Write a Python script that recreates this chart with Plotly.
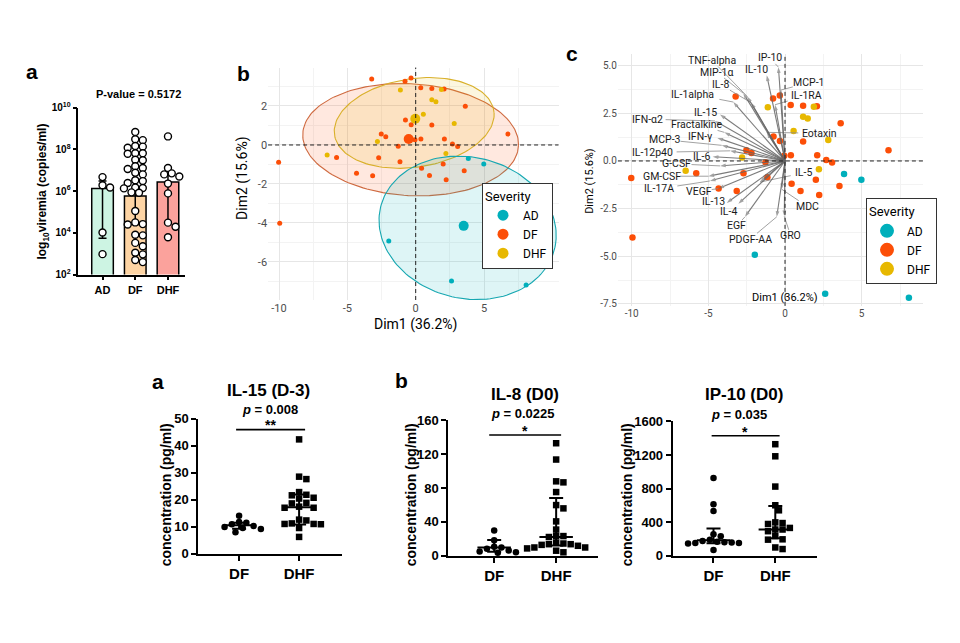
import numpy as np
import plotly.graph_objects as go

W, H = 960, 643
def fx(p): return p / W
def fy(p): return 1 - p / H

PRISM = "Liberation Sans"
GG = "Roboto"

# ===================== DATA =====================
# top (a): viremia, log10 copies/ml
vir_groups = ["AD", "DF", "DHF"]
vir_AD = [6.67, 6.28, 6.17, 4.02, 2.98]
vir_DF = [8.83, 8.48, 8.44, 8.16, 8.13, 8.08, 7.81, 7.81, 7.79, 7.50, 7.48, 7.19,
          7.11, 7.06, 6.88, 6.80, 6.52, 6.48, 6.39, 6.17, 6.15, 6.13, 5.94, 5.92,
          5.05, 4.50, 4.42, 4.40, 3.91, 3.88, 3.52, 3.36, 3.05, 2.97, 2.70, 2.60]
vir_DHF = [8.62, 7.11, 6.85, 6.80, 6.70, 6.36, 5.89, 4.49, 4.29, 3.79]
vir_median = [6.13, 5.77, 6.44]
vir_q1 = [3.74, 4.40, 4.45]
vir_q3 = [6.49, 7.80, 6.75]

# (b)/(c): PCA individuals
ind_AD_x = [3.85, 4.98, -1.97, 2.62, 8.08]
ind_AD_y = [-0.69, -0.98, -4.92, -6.97, -7.18]
ind_DF_x = [-3.22, -0.34, -0.78, 0.37, 1.18, 2.08, 3.63, -0.75, -0.33, 1.18,
            -2.52, -2.19, 0.38, -0.05, 2.10, 2.69, 3.07, -1.28, 6.75, -5.79,
            -2.71, -1.15, 2.01, 0.43, 3.55, -4.33, -3.15, 1.01, 2.23, -10.03, -9.95]
ind_DF_y = [3.38, 3.43, 3.27, 2.94, 2.90, 2.87, 1.98, 1.28, 1.04, 1.02,
            0.56, 0.42, 0.30, 0.27, 0.30, 0.05, -0.08, -0.07, 0.56, -0.64,
            -0.65, -0.86, -0.98, -1.20, -1.32, -1.45, -1.58, -1.57, -1.78, -0.89, -4.02]
ind_DHF_x = [-1.12, 1.88, 1.18, 1.48, 0.56, 2.82, -2.80, -6.48, 2.21]
ind_DHF_y = [2.82, 2.84, 2.32, 2.22, 1.57, 1.10, 0.18, -0.52, -0.44]

# (b) concentration ellipses: centre, semi-axes, rotation (deg)
ell_groups = ["DF", "DHF", "AD"]
ell_cx = [-0.37, -0.11, 3.80]
ell_cy = [0.27, 1.13, -4.25]
ell_a = [7.90, 5.87, 6.50]
ell_b = [2.87, 2.28, 3.65]
ell_rot = [-2, 5, -5]

# (c) variable loadings
var_names = ["TNF-alpha", "IP-10", "IL-10", "MIP-1α", "IL-8", "MCP-1", "IL-1RA",
             "IL-1alpha", "IFN-α2", "IL-15", "Fractalkine", "IFN-γ", "MCP-3",
             "Eotaxin", "IL-12p40", "IL-6", "G-CSF", "GM-CSF", "IL-5", "IL-17A",
             "VEGF", "IL-13", "MDC", "IL-4", "EGF", "PDGF-AA", "GRO"]
var_x = [-2.46, -0.43, -1.19, -2.72, -2.20, -0.26, -0.65, -3.37, -4.57, -4.24,
         -3.96, -4.41, -4.13, -1.19, -3.59, -4.72, -4.24, -5.00, -1.63, -4.90,
         -4.35, -3.80, -0.22, -3.04, -2.61, -0.54, -0.05]
var_y = [3.38, 4.92, 4.49, 3.55, 3.05, 3.72, 2.95, 3.09, 2.10, 2.44,
         1.50, 1.21, 0.82, 1.50, 0.53, 0.22, -0.26, -0.80, -1.11, -1.05,
         -1.45, -2.20, -1.48, -2.25, -2.93, -2.93, -2.90]
# repelled label placement
lab_x = [-4.74, -0.98, -1.85, -4.46, -4.24, 1.52, 1.37, -6.02, -8.98, -5.20,
         -5.72, -5.50, -7.83, 2.24, -8.63, -5.48, -7.11, -8.04, 1.20, -8.22,
         -5.61, -4.68, 1.46, -3.70, -3.15, -2.28, 0.37]
lab_y = [5.26, 5.40, 4.80, 4.66, 4.02, 4.10, 3.42, 3.50, 2.19, 2.55,
         1.91, 1.28, 1.11, 1.45, 0.45, 0.24, -0.15, -0.80, -0.63, -1.46,
         -1.60, -2.13, -2.39, -2.63, -3.40, -4.10, -3.92]

# bottom panels (pg/ml); stats = [median, q1, q3]
il15_DF = [14.1, 11.8, 11.5, 11.0, 10.3, 10.0, 9.6, 9.2, 8.0]
il15_DHF = [42.4, 28.6, 27.7, 22.9, 21.9, 21.7, 20.8, 20.5, 18.9, 18.7, 17.5,
            17.1, 17.1, 12.7, 12.4, 11.3, 11.1, 11.1, 11.0, 9.6, 6.3]
il15_DF_stats = [10.6, 9.3, 11.5]
il15_DHF_stats = [17.3, 10.9, 22.0]

il8_DF = [29.7, 18.1, 10.4, 9.6, 8.0, 6.0, 5.0, 3.9, 3.5]
il8_DHF = [133, 113.7, 87.9, 86.7, 75.2, 59.8, 55.9, 40.5, 30.8, 23.1, 23.1, 22.0,
           15.4, 14.3, 13.5, 13.5, 12.7, 11.6, 9.6, 9.6, 8.5, 5.8, 3.9]
il8_DF_stats = [9.6, 4.6, 18.5]
il8_DHF_stats = [22.0, 12.0, 68.2]

ip10_DF = [924, 613, 532, 255, 232, 190, 175, 165, 160, 155, 150, 150, 145, 66]
ip10_DHF = [1328, 1184, 823, 600, 540, 396, 388, 377, 330, 311, 311, 291, 233,
            194, 190, 97, 78]
ip10_DF_stats = [182, 148, 322]
ip10_DHF_stats = [311, 206, 590]

# ===================== HELPERS =====================
def swarm(vals, ypx, xpx, dia, step_frac=0.55):
    v = np.asarray(vals, float)
    order = np.argsort(-v)
    placed = []
    offs = np.zeros(len(v))
    step = dia * step_frac
    for i in order:
        y = v[i] * ypx
        k = 0
        while True:
            c = ((k + 1) // 2) * step * (1 if k % 2 == 1 else -1)
            if all((c - a) ** 2 + (y - b) ** 2 >= (dia * 0.95) ** 2 for a, b in placed):
                break
            k += 1
        placed.append((c, y))
        offs[i] = c / xpx
    return offs

def rgba(hexc, a):
    h = hexc.lstrip("#")
    return "rgba(%d,%d,%d,%.3f)" % (int(h[0:2], 16), int(h[2:4], 16), int(h[4:6], 16), a)

SEV_COL = {"AD": "#00AFBB", "DF": "#FC4E07", "DHF": "#E7B800"}
ELL_LINE = {"AD": "#16a7b1", "DF": "#cf6a40", "DHF": "#d9b02a"}

fig = go.Figure()
ann = []
shapes = []

def bold(t):
    return "<b>%s</b>" % t

def ptext(xp, yp, text, size, family=PRISM, angle=0, color="black"):
    ann.append(dict(x=fx(xp), y=fy(yp), xref="paper", yref="paper", text=text, showarrow=False,
                    xanchor="center", yanchor="middle", textangle=angle,
                    font=dict(family=family, size=size, color=color)))

# ===================== TOP a =====================
A_XPX, A_YPX = 32.8, 21.4
bar_colors = ["#cdf4e3", "#fdd4a4", "#fba29c"]
fig.add_trace(go.Bar(x=[0, 1, 2], y=[10 ** m for m in vir_median], width=0.66,
                     marker=dict(color=bar_colors, line=dict(color="black", width=1.5)),
                     xaxis="x", yaxis="y", showlegend=False))
fig.add_trace(go.Scatter(x=[0, 1, 2], y=[10 ** m for m in vir_median], mode="markers",
                         marker=dict(size=1, color="rgba(0,0,0,0)"),
                         error_y=dict(type="data", symmetric=False,
                                      array=[10 ** q - 10 ** m for q, m in zip(vir_q3, vir_median)],
                                      arrayminus=[10 ** m - 10 ** q for q, m in zip(vir_q1, vir_median)],
                                      color="black", thickness=1.5, width=4),
                         xaxis="x", yaxis="y", showlegend=False))
for i, vals in enumerate([vir_AD, vir_DF, vir_DHF]):
    off = swarm(vals, A_YPX, A_XPX, 6.3, 0.6)
    fig.add_trace(go.Scatter(x=i + off, y=10 ** np.array(vals), mode="markers", cliponaxis=False,
                             marker=dict(symbol="circle", size=7, color="white",
                                         line=dict(color="black", width=1.4)),
                             xaxis="x", yaxis="y", showlegend=False))

ptext(32, 66, bold("a"), 21)
ptext(138, 89, bold("P-value = 0.5172"), 11)
ptext(43, 189, bold("log<sub>10</sub>viremia (copies/ml)"), 12, angle=-90)

# ===================== b: PCA individuals =====================
ind = {"AD": (ind_AD_x, ind_AD_y), "DF": (ind_DF_x, ind_DF_y), "DHF": (ind_DHF_x, ind_DHF_y)}
t = np.linspace(0, 2 * np.pi, 160)
for g, cx, cy, a, b, r in zip(ell_groups, ell_cx, ell_cy, ell_a, ell_b, ell_rot):
    th = np.deg2rad(r)
    ex = cx + a * np.cos(t) * np.cos(th) - b * np.sin(t) * np.sin(th)
    ey = cy + a * np.cos(t) * np.sin(th) + b * np.sin(t) * np.cos(th)
    fig.add_trace(go.Scatter(x=ex, y=ey, mode="lines", fill="toself",
                             fillcolor=rgba(SEV_COL[g], 0.13),
                             line=dict(color=ELL_LINE[g], width=1.1),
                             xaxis="x2", yaxis="y2", showlegend=False, hoverinfo="skip"))
for g in ["DF", "DHF", "AD"]:
    xs, ys = ind[g]
    fig.add_trace(go.Scatter(x=xs, y=ys, mode="markers", marker=dict(size=5, color=SEV_COL[g]),
                             xaxis="x2", yaxis="y2", showlegend=False))
for g in ["DF", "DHF", "AD"]:
    xs, ys = ind[g]
    fig.add_trace(go.Scatter(x=[np.mean(xs)], y=[np.mean(ys)], mode="markers",
                             marker=dict(size=10, color=SEV_COL[g]),
                             xaxis="x2", yaxis="y2", showlegend=False))
for g in ["AD", "DF", "DHF"]:
    fig.add_trace(go.Scatter(x=[None], y=[None], mode="markers", name=g,
                             marker=dict(size=11, color=SEV_COL[g]),
                             xaxis="x2", yaxis="y2", legend="legend", showlegend=True))
for ax in ["x2", "x3"]:
    ya = ax.replace("x", "y")
    shapes.append(dict(type="line", xref=ax, yref=ya + " domain", x0=0, x1=0, y0=0, y1=1,
                       line=dict(color="#222", width=1, dash="4px,3px")))
    shapes.append(dict(type="line", xref=ax + " domain", yref=ya, x0=0, x1=1, y0=0, y1=0,
                       line=dict(color="#222", width=1, dash="4px,3px")))

ptext(243, 68, bold("b"), 21)
ptext(415, 325, "Dim1 (36.2%)", 14, family=GG)
ptext(243, 176, "Dim2 (15.6%)", 14, family=GG, angle=-90)

# ===================== c: biplot =====================
for g in ["DF", "DHF", "AD"]:
    xs, ys = ind[g]
    fig.add_trace(go.Scatter(x=xs, y=ys, mode="markers", marker=dict(size=6.5, color=SEV_COL[g]),
                             xaxis="x3", yaxis="y3", showlegend=False))
for g in ["AD", "DF", "DHF"]:
    fig.add_trace(go.Scatter(x=[None], y=[None], mode="markers", name=g,
                             marker=dict(size=14, color=SEV_COL[g]),
                             xaxis="x3", yaxis="y3", legend="legend2", showlegend=True))

C_XPX, C_YPX = 15.33, 19.53
cx_line, cy_line = [], []
for n, tx, ty, lx, ly in zip(var_names, var_x, var_y, lab_x, lab_y):
    dxp, dyp = (tx - lx) * C_XPX, (ty - ly) * C_YPX
    hw, hh = len(n) * 2.8 + 1.5, 6.0
    tt = min(hw / abs(dxp) if dxp else 1e9, hh / abs(dyp) if dyp else 1e9)
    length = np.hypot(dxp, dyp)
    if tt < 1 and (1 - tt) * length > 4:
        cx_line += [lx + tt * (tx - lx), tx, None]
        cy_line += [ly + tt * (ty - ly), ty, None]
fig.add_trace(go.Scatter(x=cx_line, y=cy_line, mode="lines", line=dict(color="#8a8a8a", width=0.8),
                         xaxis="x3", yaxis="y3", showlegend=False, hoverinfo="skip"))
ARROW_COL = "rgba(100,100,100,0.85)"
for n, tx, ty in zip(var_names, var_x, var_y):
    fig.add_trace(go.Scatter(x=[0, tx], y=[0, ty], mode="lines+markers",
                             line=dict(color=ARROW_COL, width=1.1),
                             marker=dict(symbol="arrow", size=[0, 6], angleref="previous",
                                         color=ARROW_COL, line=dict(width=0)),
                             xaxis="x3", yaxis="y3", showlegend=False, hoverinfo="skip"))
for n, lx, ly in zip(var_names, lab_x, lab_y):
    ann.append(dict(x=lx, y=ly, xref="x3", yref="y3", text=n, showarrow=False,
                    xanchor="center", yanchor="middle",
                    font=dict(family=GG, size=10.5, color="#1a1a1a")))

ptext(572, 48, bold("c"), 21)
ptext(785, 297, "Dim1 (36.2%)", 11, family=GG)
ptext(590, 178, "Dim2 (15.6%)", 11, family=GG, angle=-90)

# ===================== bottom panels =====================
def prism_panel(n, df_vals, dhf_vals, df_stats, dhf_stats, ypx, xpx, title, ptxt, stars,
                sig_y, sig_x0, sig_x1, title_px, p_px, star_px, ylab_px):
    xa, ya = "x%d" % n, "y%d" % n
    for i, (vals, sym, st) in enumerate([(df_vals, "circle", df_stats), (dhf_vals, "square", dhf_stats)]):
        off = swarm(vals, ypx, xpx, 6.6)
        fig.add_trace(go.Scatter(x=i + off, y=vals, mode="markers", cliponaxis=False,
                                 marker=dict(symbol=sym, size=6.5, color="black"),
                                 xaxis=xa, yaxis=ya, showlegend=False))
        med, q1, q3 = st
        fig.add_trace(go.Scatter(x=[i - 0.27, i + 0.27], y=[med, med], mode="lines",
                                 line=dict(color="black", width=2), cliponaxis=False,
                                 xaxis=xa, yaxis=ya, showlegend=False))
        fig.add_trace(go.Scatter(x=[i], y=[med], mode="markers", marker=dict(size=1, color="rgba(0,0,0,0)"),
                                 error_y=dict(type="data", symmetric=False, array=[q3 - med],
                                              arrayminus=[med - q1], color="black", thickness=2, width=7),
                                 xaxis=xa, yaxis=ya, showlegend=False))
    shapes.append(dict(type="line", xref=xa, yref=ya, x0=sig_x0, x1=sig_x1, y0=sig_y, y1=sig_y,
                       line=dict(color="black", width=1.6)))
    ptext(title_px[0], title_px[1], bold(title), 17)
    ptext(p_px[0], p_px[1], bold(ptxt), 13)
    ptext(star_px[0], star_px[1], bold(stars), 14)
    ptext(ylab_px, 500, bold("concentration (pg/ml)"), 14, angle=-90)

prism_panel(4, il15_DF, il15_DHF, il15_DF_stats, il15_DHF_stats, 2.77, 60.0, "IL-15 (D-3)",
            "<i>p</i> = 0.008", "**", 46.0, -0.05, 1.10, (268, 393), (270, 412), (270, 428), 166)
prism_panel(5, il8_DF, il8_DHF, il8_DF_stats, il8_DHF_stats, 0.865, 62.0, "IL-8 (D0)",
            "<i>p</i> = 0.0225", "*", 142.7, -0.08, 1.08, (525, 397), (523, 416), (525, 434), 411)
prism_panel(6, ip10_DF, ip10_DHF, ip10_DF_stats, ip10_DHF_stats, 0.0859, 61.7, "IP-10 (D0)",
            "<i>p</i> = 0.035", "*", 1429, -0.03, 1.07, (744, 397), (739, 417), (745, 435), 627)

ptext(158, 383, bold("a"), 21)
ptext(401, 382, bold("b"), 21)

# ===================== LAYOUT =====================
def prism_x(dom, rng, anchor):
    return dict(domain=dom, range=rng, tickvals=[0, 1], ticktext=["DF", "DHF"], showline=True,
                linecolor="black", linewidth=2, ticks="outside", ticklen=5, tickwidth=2, tickcolor="black",
                tickfont=dict(family=PRISM, size=15, color="black", weight="bold"),
                showgrid=False, zeroline=False, anchor=anchor)

def prism_y(dom, rng, tv, anchor):
    return dict(domain=dom, range=rng, tickvals=tv, showline=True, linecolor="black", linewidth=2,
                ticks="outside", ticklen=5, tickwidth=2, tickcolor="black",
                tickfont=dict(family=PRISM, size=13, color="black", weight="bold"),
                showgrid=False, zeroline=False, anchor=anchor)

def gg_axis(dom, rng, tv, tt, minor_tv, anchor, fsize):
    return dict(domain=dom, range=rng, tickvals=tv, ticktext=tt, showline=False, ticks="",
                showgrid=True, gridcolor="#e6e6e6", gridwidth=0.9, zeroline=False,
                minor=dict(tickvals=minor_tv, showgrid=True, gridcolor="#f3f3f3", gridwidth=0.6),
                tickfont=dict(family=GG, size=fsize, color="#4d4d4d"), anchor=anchor)

layout = dict(
    width=W, height=H, margin=dict(l=0, r=0, t=0, b=0),
    paper_bgcolor="white", plot_bgcolor="rgba(0,0,0,0)",
    xaxis=dict(domain=[fx(78.3), fx(185)], range=[-0.74, 2.52], tickvals=[0, 1, 2], ticktext=vir_groups,
               showline=True, linecolor="black", linewidth=1.5, ticks="outside", ticklen=4, tickwidth=1.5,
               tickcolor="black", tickfont=dict(family=PRISM, size=11, color="black", weight="bold"),
               showgrid=False, zeroline=False, anchor="y"),
    yaxis=dict(domain=[fy(274), fy(103)], type="log", range=[2, 10],
               tickvals=[1e2, 1e4, 1e6, 1e8, 1e10],
               ticktext=["10<sup>2</sup>", "10<sup>4</sup>", "10<sup>6</sup>", "10<sup>8</sup>", "10<sup>10</sup>"],
               showline=True, linecolor="black", linewidth=1.5, ticks="outside", ticklen=4, tickwidth=1.5,
               tickcolor="black", tickfont=dict(family=PRISM, size=10, color="black", weight="bold"),
               showgrid=False, zeroline=False, anchor="x"),
    xaxis2=gg_axis([fx(268.1), fx(558.5)], [-10.8, 10.45], [-10, -5, 0, 5], ["-10", "-5", "0", "5"],
                   [-7.5, -2.5, 2.5, 7.5], "y2", 11),
    yaxis2=gg_axis([fy(300), fy(62)], [-7.95, 3.97], [-6, -4, -2, 0, 2], ["-6", "-4", "-2", "0", "2"],
                   [-7, -5, -3, -1, 1, 3], "x2", 11),
    xaxis3=gg_axis([fx(617.9), fx(923)], [-10.9, 9.0], [-10, -5, 0, 5], ["-10", "-5", "0", "5"],
                   [-7.5, -2.5, 2.5, 7.5], "y3", 10),
    yaxis3=gg_axis([fy(306), fy(48.3)], [-7.6, 5.6], [-7.5, -5, -2.5, 0, 2.5, 5],
                   ["-7.5", "-5.0", "-2.5", "0.0", "2.5", "5.0"], [-6.25, -3.75, -1.25, 1.25, 3.75], "x3", 10),
    xaxis4=prism_x([fx(198.3), fx(341.7)], [-0.68, 1.71], "y4"),
    yaxis4=prism_y([fy(560), fy(421.7)], [0, 50], [0, 10, 20, 30, 40, 50], "x4"),
    xaxis5=prism_x([fx(448.3), fx(598.3)], [-0.74, 1.68], "y5"),
    yaxis5=prism_y([fy(561.7), fy(423.3)], [0, 160], [0, 40, 80, 120, 160], "x5"),
    xaxis6=prism_x([fx(672.7), fx(816.7)], [-0.66, 1.67], "y6"),
    yaxis6=prism_y([fy(561.7), fy(424.3)], [0, 1600], [0, 400, 800, 1200, 1600], "x6"),
    legend=dict(x=fx(482), y=fy(180), xanchor="left", yanchor="top", bgcolor="white",
                bordercolor="#333333", borderwidth=1, itemsizing="trace", itemwidth=30,
                font=dict(family=GG, size=12, color="black"),
                title=dict(text="Severity", font=dict(family=GG, size=13, color="black"))),
    legend2=dict(x=fx(866), y=fy(196), xanchor="left", yanchor="top", bgcolor="white",
                 bordercolor="#333333", borderwidth=1, itemsizing="trace", itemwidth=30,
                 font=dict(family=GG, size=12, color="black"),
                 title=dict(text="Severity", font=dict(family=GG, size=13, color="black"))),
    annotations=ann, shapes=shapes, bargap=0.3,
)
fig.update_layout(**layout)
fig.write_html("out.html", config={"displayModeBar": False},
               post_script="document.body.style.margin='0';document.body.style.overflow='hidden';")
